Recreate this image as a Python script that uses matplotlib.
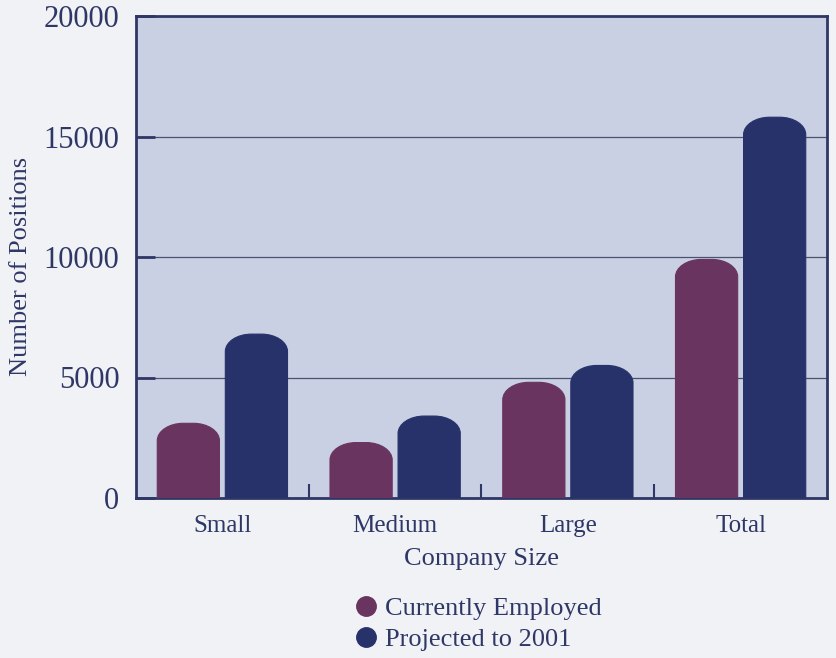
import matplotlib.pyplot as plt
from matplotlib.path import Path
from matplotlib.patches import PathPatch
import numpy as np

# Employment by company size
sizes = ["Small", "Medium", "Large", "Total"]
current = [3100, 2300, 4800, 9900]
projected = [6800, 3400, 5500, 15800]
series_names = ["Currently Employed", "Projected to 2001"]
colors = ["#693460", "#27326a"]

plt.rcParams['font.family'] = ['Liberation Serif', 'DejaVu Serif']
ink = "#2f3766"


def rounded_top(rect, ry):
    # replace a plain bar with one whose top corners are rounded
    x0, w, h = rect.get_x(), rect.get_width(), rect.get_height()
    y0 = rect.get_y()
    rx = 0.42 * w
    ry = min(ry, h)
    k = 0.5523
    top = y0 + h
    verts = [
        (x0, y0), (x0, top - ry),
        (x0, top - ry + k * ry), (x0 + rx - k * rx, top), (x0 + rx, top),
        (x0 + w - rx, top),
        (x0 + w - rx + k * rx, top), (x0 + w, top - ry + k * ry), (x0 + w, top - ry),
        (x0 + w, y0), (x0, y0),
    ]
    codes = [Path.MOVETO, Path.LINETO,
             Path.CURVE4, Path.CURVE4, Path.CURVE4,
             Path.LINETO,
             Path.CURVE4, Path.CURVE4, Path.CURVE4,
             Path.LINETO, Path.CLOSEPOLY]
    return Path(verts, codes)


fig = plt.figure(figsize=(8.36, 6.58), dpi=100)
fig.patch.set_facecolor("#f1f2f6")
ax = fig.add_axes([136 / 836, 1 - 498 / 658, 691 / 836, 482 / 658])
ax.set_facecolor("#c9d0e3")

x = np.arange(len(sizes)) + 0.5
width = 0.36
offset = 0.197
for vals, dx, color, name in zip([current, projected], [-offset, offset], colors, series_names):
    bars = ax.bar(x + dx, vals, width, color=color, zorder=3)
    for b in bars:
        p = PathPatch(rounded_top(b, 720), facecolor=color, edgecolor=color,
                      linewidth=0.8, zorder=3)
        ax.add_patch(p)
        b.set_visible(False)
    # legend proxy
    ax.plot([], [], 'o', color=color, markersize=14, label=name)

ax.set_xlim(0, 4)
ax.set_ylim(0, 20000)
ax.set_yticks([0, 5000, 10000, 15000, 20000])
ax.yaxis.grid(True, color="#4a5270", linewidth=0.9, zorder=1)
ax.set_axisbelow(True)

ax.set_xticks(x)
ax.set_xticklabels(sizes, fontsize=18, color=ink)
ax.set_xticks([1, 2, 3], minor=True)
ax.tick_params(axis='x', which='major', length=0, pad=12)
ax.tick_params(axis='x', which='minor', direction='in', length=10, width=1.5, color=ink)
ax.tick_params(axis='y', direction='in', length=14, width=2, color=ink,
               labelsize=22, labelcolor=ink, pad=12)

for s in ax.spines.values():
    s.set_color(ink)
    s.set_linewidth(2)

ax.set_xlabel("Company Size", fontsize=19, color=ink, labelpad=8)
ax.set_ylabel("Number of Positions", fontsize=19, color=ink)
ax.yaxis.set_label_coords(-0.15, 0.48)

fig.legend(loc='upper left', bbox_to_anchor=(340 / 836, 1 - 586 / 658),
           frameon=False, fontsize=19, labelcolor=ink, handletextpad=0.1,
           labelspacing=0.3, handlelength=1.2, borderaxespad=0)

fig.savefig("out.png", dpi=100, facecolor=fig.get_facecolor())
